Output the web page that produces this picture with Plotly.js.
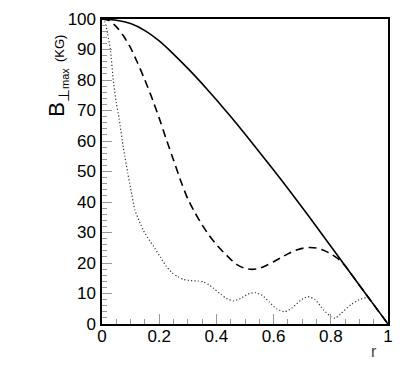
<!DOCTYPE html>
<html>
<head>
<meta charset="utf-8">
<script src="https://cdn.plot.ly/plotly-3.0.1.min.js"></script>
<style>
  html, body { margin: 0; padding: 0; background: #fff; }
  #plot { width: 409px; height: 382px; }
</style>
</head>
<body>
<div id="plot"></div>
<script>
// solid curve
var rSolid = [0, 0.05, 0.1, 0.15, 0.2, 0.25, 0.3, 0.35, 0.4, 0.45, 0.5,
  0.55, 0.6, 0.65, 0.7, 0.75, 0.8, 0.85, 0.9, 0.95, 1];
var bSolid = [100, 99.6, 98.5, 96.2, 92.8, 88.5, 83.8, 78.8, 73.5, 68, 62.3,
  56.4, 50.5, 44.4, 38.2, 31.9, 25.5, 19.1, 12.7, 6.35, 0];

// dashed curve
var rDashed = [0, 0.025, 0.05, 0.075, 0.1, 0.125, 0.15, 0.175, 0.2, 0.225, 0.25,
  0.275, 0.3, 0.325, 0.35, 0.375, 0.4, 0.425, 0.45, 0.475, 0.5, 0.525, 0.55,
  0.575, 0.6, 0.625, 0.65, 0.675, 0.7, 0.725, 0.75, 0.775, 0.8, 0.825, 0.85,
  0.9, 0.95, 1];
var bDashed = [100, 99.5, 97.5, 94.5, 90.5, 85.5, 80, 74, 67.5, 60.5, 53.8,
  47, 41, 36.5, 32.5, 29, 26, 23.5, 21.2, 19.3, 18.2, 17.9, 18.2,
  19.2, 20.4, 21.7, 23, 24.1, 24.8, 25.1, 24.9, 24.2, 23, 21.4, 19.1,
  12.7, 6.35, 0];

// dotted curve
var rDotted = [0, 0.01, 0.02, 0.03, 0.04, 0.05, 0.06, 0.075, 0.09, 0.1, 0.115,
  0.13, 0.145, 0.165, 0.185, 0.205, 0.225, 0.245, 0.265, 0.285, 0.31, 0.335,
  0.355, 0.375, 0.39, 0.415, 0.435, 0.46, 0.485, 0.51, 0.535, 0.56, 0.585,
  0.61, 0.64, 0.665, 0.695, 0.72, 0.745, 0.775, 0.8, 0.815, 0.835, 0.87,
  0.9, 0.93, 0.95, 0.975, 1];
var bDotted = [100, 99, 95, 89.5, 79.4, 72.5, 67.3, 57.6, 49.5, 44.5, 37.4,
  33.8, 30.6, 27.6, 24.8, 21.8, 18.9, 16.8, 15.5, 14.6, 14.2, 14.1,
  13.8, 12.8, 11.7, 9.8, 8.4, 7.6, 8.4, 9.8, 10.3, 9.4, 7.2,
  5.0, 4.0, 5.3, 7.8, 9.0, 8.0, 4.6, 2.4, 1.9, 3.4, 6.3,
  8.0, 8.6, 6.35, 3.2, 0];

var xTicks = [0, 0.2, 0.4, 0.6, 0.8, 1];
var xTickText = ["0", "0.2", "0.4", "0.6", "0.8", "1"];

var font = "Liberation Sans, Arial, Helvetica, sans-serif";

var traces = [
  {x: rDotted, y: bDotted, type: "scatter", mode: "lines",
   line: {color: "#333", width: 1.2, dash: "1.2px,2.2px", shape: "spline", smoothing: 0.5}},
  {x: rDashed, y: bDashed, type: "scatter", mode: "lines",
   line: {color: "#000", width: 1.6, dash: "8px,5px", shape: "spline", smoothing: 0.5}},
  {x: rSolid, y: bSolid, type: "scatter", mode: "lines",
   line: {color: "#000", width: 1.6, shape: "spline", smoothing: 0.5}}
];

var layout = {
  width: 409, height: 382,
  margin: {l: 102, r: 21, t: 19, b: 58},
  paper_bgcolor: "#fff", plot_bgcolor: "#fff",
  showlegend: false,
  font: {family: font, size: 17, color: "#000"},
  xaxis: {
    range: [0, 1], tickvals: xTicks, ticktext: xTickText,
    ticks: "inside", ticklen: 10, tickcolor: "#999", tickwidth: 1,
    ticklabelstandoff: -4,
    minor: {dtick: 0.05, ticks: "inside", ticklen: 5, tickcolor: "#999", tickwidth: 1},
    showline: true, mirror: true, linecolor: "#000", linewidth: 1.6,
    showgrid: false, zeroline: false
  },
  yaxis: {
    range: [0, 100], dtick: 10,
    ticks: "inside", ticklen: 10, tickcolor: "#999", tickwidth: 1,
    ticklabelstandoff: 1,
    minor: {dtick: 2, ticks: "inside", ticklen: 5, tickcolor: "#999", tickwidth: 1},
    showline: true, mirror: true, linecolor: "#000", linewidth: 1.6,
    showgrid: false, zeroline: false
  },
  annotations: [
    {xref: "paper", yref: "paper", x: 0.97, y: -0.055, xanchor: "right", yanchor: "top",
     text: "r", showarrow: false, font: {family: font, size: 16, color: "#444"}},
    {xref: "paper", yref: "paper", x: -0.154, y: 0.955, xanchor: "center", yanchor: "top",
     textangle: -90, showarrow: false,
     text: "B<sub>⊥<span style=\"font-size:11px\">max</span></sub> <span style=\"font-size:13px\">(KG)</span>",
     font: {family: font, size: 22, color: "#000"}}
  ]
};

Plotly.newPlot("plot", traces, layout, {displayModeBar: false, staticPlot: true});
</script>
</body>
</html>
